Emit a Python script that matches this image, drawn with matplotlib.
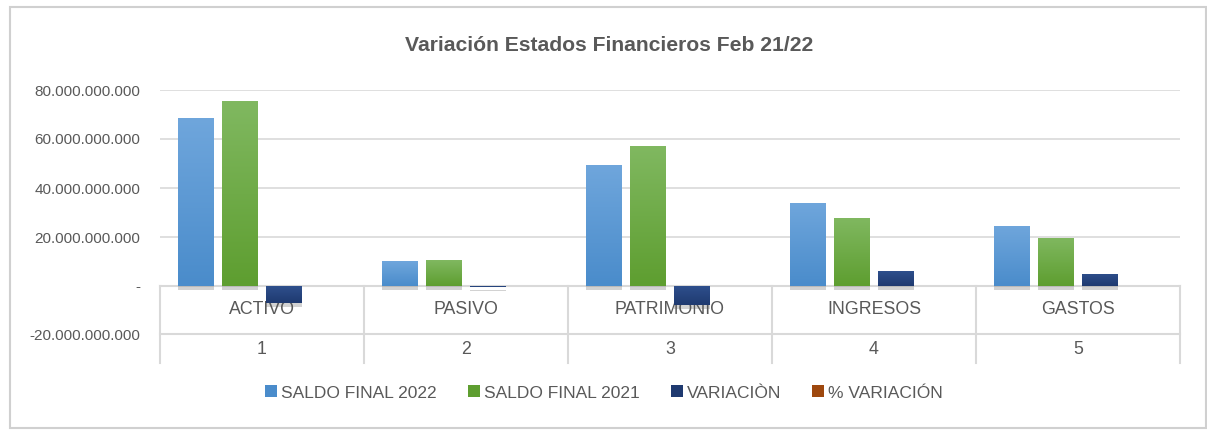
import numpy as np
import matplotlib
matplotlib.use("Agg")
import matplotlib.pyplot as plt
from matplotlib.patches import Rectangle
from matplotlib.ticker import FuncFormatter
from matplotlib.colors import LinearSegmentedColormap
import matplotlib.patheffects as pe

plt.rcParams['font.family'] = ['Liberation Sans', 'DejaVu Sans']

# datos (pesos)
cuentas = ['ACTIVO', 'PASIVO', 'PATRIMONIO', 'INGRESOS', 'GASTOS']
codigos = ['1', '2', '3', '4', '5']
saldo_2022 = [68.6e9, 10.2e9, 49.4e9, 33.9e9, 24.5e9]
saldo_2021 = [75.5e9, 10.6e9, 57.1e9, 27.8e9, 19.6e9]
variacion = [-6.9e9, -0.4e9, -7.7e9, 6.1e9, 4.9e9]
pct_variacion = [-0.09, -0.04, -0.14, 0.22, 0.25]

series = ['SALDO FINAL 2022', 'SALDO FINAL 2021', 'VARIACIÒN', '% VARIACIÓN']
colores_top = ['#6FA6DC', '#80B860', '#2E4F8C', '#B5541A']
colores_bot = ['#4A8CCB', '#5E9E30', '#1F3A70', '#9E480E']
gris = '#595959'

fig = plt.figure(figsize=(12.07, 4.30), dpi=100)
ax = fig.add_axes([160 / 1207, 1 - 335 / 430, 1020 / 1207, 245 / 430])

x = np.arange(len(cuentas))
slot = 0.216
ancho = 0.176
datos = [saldo_2022, saldo_2021, variacion, pct_variacion]

ax.set_xlim(-0.5, len(cuentas) - 0.5)
ax.set_ylim(-20e9, 80e9)

handles = []
for i, vals in enumerate(datos):
    pos = x + (i - 1.5) * slot
    bars = ax.bar(pos, vals, width=ancho, color=colores_bot[i], zorder=3,
                  label=series[i])
    handles.append(Rectangle((0, 0), 1, 1, facecolor=colores_bot[i]))
    cmap = LinearSegmentedColormap.from_list('g%d' % i, [colores_bot[i], colores_top[i]])
    grad = np.linspace(0, 1, 64).reshape(-1, 1)
    for b in bars:
        b.set_path_effects([pe.SimplePatchShadow(offset=(0, -3), shadow_rgbFace='#7F7F7F',
                                                 alpha=0.35), pe.Normal()])
        x0, y0 = b.get_x(), b.get_y()
        w, h = b.get_width(), b.get_height()
        if abs(h) < 1e6:
            continue
        lo, hi = min(y0, y0 + h), max(y0, y0 + h)
        im = ax.imshow(grad, extent=[x0, x0 + w, lo, hi], origin='lower',
                       cmap=cmap, aspect='auto', zorder=3.5, interpolation='bilinear')
        im.set_clip_path(b)

ax.set_xlim(-0.5, len(cuentas) - 0.5)
ax.set_ylim(-20e9, 80e9)

# ejes y cuadricula
ax.set_yticks(np.arange(-20e9, 80e9 + 1, 20e9))

def fmt(v, _):
    if abs(v) < 1:
        return '-'
    return '{:,.0f}'.format(v).replace(',', '.')

ax.yaxis.set_major_formatter(FuncFormatter(fmt))
ax.tick_params(axis='y', length=0, pad=14, labelsize=11, labelcolor=gris)
ax.set_xticks([])
ax.grid(axis='y', color='#D9D9D9', linewidth=1.2, zorder=0)
for s in ax.spines.values():
    s.set_visible(False)

# tabla de categorias bajo el eje
px = 20e9 / 49.0
fondo = -77 * px
linea = dict(color='#D9D9D9', linewidth=1.5, clip_on=False, zorder=2)
ax.plot([-0.5, len(cuentas) - 0.5], [0, 0], **linea)
ax.plot([-0.5, len(cuentas) - 0.5], [-48 * px, -48 * px], **linea)
for b in np.arange(-0.5, len(cuentas)):
    ax.plot([b, b], [0, fondo], **linea)
for i in range(len(cuentas)):
    ax.text(x[i], -24 * px, cuentas[i], ha='center', va='center', fontsize=12.8,
            color=gris, clip_on=False)
    ax.text(x[i], -63 * px, codigos[i], ha='center', va='center', fontsize=12.8,
            color=gris, clip_on=False)

fig.text(609 / 1207, 1 - 51 / 430, 'Variación Estados Financieros Feb 21/22',
         ha='center', va='baseline', fontsize=15.2, fontweight='bold', color=gris)

fig.legend(handles, series, loc='center', bbox_to_anchor=(604 / 1207, 1 - 393 / 430),
           ncol=4, frameon=False, fontsize=12.5, labelcolor=gris,
           handlelength=0.69, handleheight=0.69, handletextpad=0.23, columnspacing=1.78)

# marco del grafico
fig.patches.append(Rectangle((10 / 1207, 2 / 430), 1196 / 1207, 421 / 430,
                             transform=fig.transFigure, fill=False,
                             edgecolor='#D0D0D0', linewidth=1.5))

fig.savefig('out.png', dpi=100)
